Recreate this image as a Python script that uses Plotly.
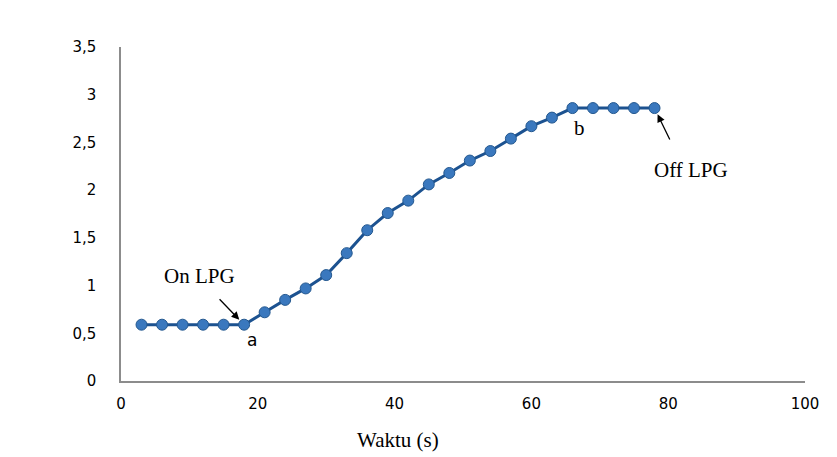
import plotly.graph_objects as go

waktu = [3, 6, 9, 12, 15, 18, 21, 24, 27, 30, 33, 36, 39, 42, 45, 48, 51, 54, 57, 60, 63, 66, 69, 72, 75, 78]
nilai = [0.59, 0.59, 0.59, 0.59, 0.59, 0.59, 0.72, 0.85, 0.97, 1.11, 1.34, 1.58, 1.76, 1.89, 2.06, 2.18,
         2.31, 2.41, 2.54, 2.67, 2.76, 2.86, 2.86, 2.86, 2.86, 2.86]
x_ticks = [0, 20, 40, 60, 80, 100]
y_ticks = [0, 0.5, 1, 1.5, 2, 2.5, 3, 3.5]

fig = go.Figure()
fig.add_trace(go.Scatter(
    x=waktu, y=nilai, mode="lines+markers",
    line=dict(color="#1C5290", width=3),
    marker=dict(size=11, color="#3A78BE", line=dict(color="#24588F", width=1)),
    showlegend=False,
))

serif = "Liberation Serif"
ann = []
ann.append(dict(x=40.5, y=0, xref="x", yref="paper", yshift=-59, yanchor="middle", text="Waktu (s)",
                showarrow=False, font=dict(family=serif, size=21, color="black")))
ann.append(dict(x=18, y=0.59, xref="x", yref="y", ax=-26, ay=-27, text="", showarrow=True,
                arrowhead=2, arrowsize=1.2, arrowwidth=1.3, arrowcolor="black", standoff=7))
ann.append(dict(x=11.5, y=1.1, xref="x", yref="y", text="On LPG", showarrow=False,
                font=dict(family=serif, size=21, color="black")))
ann.append(dict(x=19.2, y=0.43, xref="x", yref="y", text="a", showarrow=False,
                font=dict(family="DejaVu Sans", size=17, color="black")))
ann.append(dict(x=67, y=2.65, xref="x", yref="y", text="b", showarrow=False,
                font=dict(family=serif, size=21, color="black")))
ann.append(dict(x=78, y=2.86, xref="x", yref="y", ax=16, ay=33, text="", showarrow=True,
                arrowhead=2, arrowsize=1.2, arrowwidth=1.3, arrowcolor="black", standoff=7))
ann.append(dict(x=83.3, y=2.21, xref="x", yref="y", text="Off LPG", showarrow=False,
                font=dict(family=serif, size=21, color="black")))

fig.update_layout(
    width=837, height=457,
    margin=dict(l=113, r=40, t=39, b=84),
    paper_bgcolor="white", plot_bgcolor="white",
    separators=",.",
    font=dict(family="DejaVu Sans", size=15, color="black"),
    annotations=ann,
    xaxis=dict(range=[0, 100], tickvals=x_ticks, showgrid=False, zeroline=False,
               showline=True, linecolor="#8C8C8C", linewidth=1.5, ticks="",
               tickfont=dict(size=15), ticklabelstandoff=8),
    yaxis=dict(range=[0, 3.5], tickvals=y_ticks, showgrid=False, zeroline=False,
               showline=True, linecolor="#8C8C8C", linewidth=1.5, ticks="",
               tickfont=dict(size=15), ticklabelstandoff=20),
)

fig.write_html("out.html")
